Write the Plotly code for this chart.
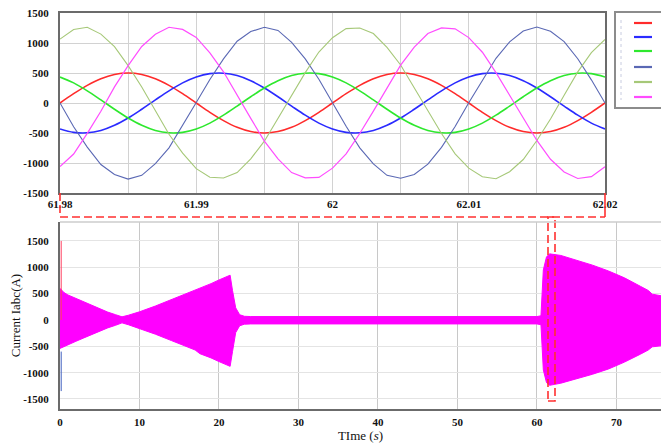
import plotly.graph_objects as go

# ---------------- data: zoomed window (61.98 s - 62.02 s, 1 ms samples) ----------------
t_zoom = [61.980, 61.981, 61.982, 61.983, 61.984, 61.985, 61.986, 61.987, 61.988, 61.989,
          61.990, 61.991, 61.992, 61.993, 61.994, 61.995, 61.996, 61.997, 61.998, 61.999,
          62.000, 62.001, 62.002, 62.003, 62.004, 62.005, 62.006, 62.007, 62.008, 62.009,
          62.010, 62.011, 62.012, 62.013, 62.014, 62.015, 62.016, 62.017, 62.018, 62.019,
          62.020]

ia = [0, 155, 294, 405, 476, 500, 476, 405, 294, 155, 0, -155, -294, -405, -476, -500, -476, -405, -294, -155,
      0, 155, 294, 405, 476, 500, 476, 405, 294, 155, 0, -155, -294, -405, -476, -500, -476, -405, -294, -155, 0]
ib = [-433, -489, -497, -457, -371, -250, -104, 52, 203, 335, 433, 489, 497, 457, 371, 250, 104, -52, -203, -335,
      -433, -489, -497, -457, -371, -250, -104, 52, 203, 335, 433, 489, 497, 457, 371, 250, 104, -52, -203, -335, -433]
ic = [433, 335, 203, 52, -104, -250, -371, -457, -497, -489, -433, -335, -203, -52, 104, 250, 371, 457, 497, 489,
      433, 335, 203, 52, -104, -250, -371, -457, -497, -489, -433, -335, -203, -52, 104, 250, 371, 457, 497, 489, 433]
iga = [0, -395, -735, -1025, -1190, -1268, -1205, -1010, -748, -380, 8, 392, 736, 1030, 1190, 1262, 1210, 1012, 735, 395,
       -5, -388, -748, -1015, -1205, -1255, -1192, -1020, -740, -392, 3, 385, 745, 1018, 1200, 1266, 1195, 1022, 738, 386, 0]
igb = [1065, 1225, 1262, 1148, 940, 622, 268, -128, -520, -836, -1095, -1238, -1250, -1160, -930, -636, -255, 138, 506, 850,
       1088, 1240, 1250, 1158, 928, 634, 258, -136, -509, -848, -1085, -1228, -1262, -1146, -942, -625, -266, 128, 518, 838, 1060]
igc = [-1060, -850, -506, -138, 268, 624, 942, 1146, 1262, 1226, 1094, 836, 520, 126, -256, -636, -930, -1160, -1248, -1240,
       -1086, -848, -508, -136, 260, 632, 930, 1158, 1252, 1236, 1090, 846, 506, 130, -268, -624, -938, -1150, -1258, -1228, -1062]

zoom_ticks = [61.98, 61.99, 62.00, 62.01, 62.02]
zoom_ticktext = ["61.98", "61.99", "62", "62.01", "62.02"]

# ---------------- data: full run envelope of the current (0 - 75.6 s) ----------------
t_env = [0, 0.5, 1, 2, 3, 4, 5, 6, 7, 7.8, 8.6, 10, 12, 14, 16, 17, 17.6, 18.2, 19, 20, 21, 21.4, 21.7, 22.1, 22.6,
         23.2, 24, 30, 40, 50, 60, 60.5, 60.8, 61.2, 61.6, 63, 65, 67, 69, 71, 73, 74, 74.5, 75, 75.6]
upper = [600, 520, 475, 410, 340, 275, 210, 150, 100, 60, 90, 155, 265, 385, 500, 560, 610, 640, 690, 760, 830, 850,
         560, 230, 100, 70, 65, 65, 65, 65, 65, 80, 950, 1200, 1255, 1225, 1130, 1040, 930, 800, 640, 560, 490, 470, 460]
lower = [-540, -510, -470, -405, -340, -275, -210, -150, -100, -55, -90, -160, -270, -390, -510, -570, -640, -670, -720,
         -790, -860, -880, -600, -240, -110, -80, -75, -75, -75, -75, -75, -90, -950, -1190, -1240, -1200, -1120, -1030,
         -930, -800, -650, -570, -510, -495, -490]
t_spike = [0.15, 0.15]
spike_pos = [0, 1500]
spike_neg = [-600, -1350]

full_ticks = [0, 10, 20, 30, 40, 50, 60, 70]
current_ticks = [-1500, -1000, -500, 0, 500, 1000, 1500]

# ---------------- figure ----------------
W, H = 661, 443
def px(x):
    return x / W
def py(y):
    return 1 - y / H

FONT = "Liberation Serif"
tickfont = dict(family=FONT, size=11, color="#111111")
def bold(labels):
    return ["<b>%s</b>" % s for s in labels]

fig = go.Figure()
series = [
    ("Ia", ia, "#ff2b2b", 1.6, "spline"),
    ("Ib", ib, "#2b2bff", 1.6, "spline"),
    ("Ic", ic, "#2ee82e", 1.6, "spline"),
    ("Iga", iga, "#5a68b4", 1.1, "linear"),
    ("Igb", igb, "#a6c878", 1.1, "linear"),
    ("Igc", igc, "#ff4cff", 1.2, "linear"),
]
for name, vals, color, w, shape in series:
    fig.add_trace(go.Scatter(x=t_zoom, y=vals, mode="lines", name=name, showlegend=False,
                             line=dict(color=color, width=w, shape=shape), xaxis="x", yaxis="y"))

fig.add_trace(go.Scatter(x=t_env, y=upper, mode="lines", line=dict(color="#ff00ff", width=1),
                         xaxis="x2", yaxis="y2", showlegend=False, hoverinfo="skip"))
fig.add_trace(go.Scatter(x=t_env, y=lower, mode="lines", line=dict(color="#ff00ff", width=1),
                         fill="tonexty", fillcolor="#ff00ff",
                         xaxis="x2", yaxis="y2", showlegend=False, hoverinfo="skip"))
fig.add_trace(go.Scatter(x=t_spike, y=spike_pos, mode="lines", line=dict(color="#ff4060", width=1),
                         xaxis="x2", yaxis="y2", showlegend=False))
fig.add_trace(go.Scatter(x=t_spike, y=spike_neg, mode="lines", line=dict(color="#4060c0", width=1),
                         xaxis="x2", yaxis="y2", showlegend=False))

red = "#ff3030"
dash = "8px,4px"
shapes = [
    dict(type="line", xref="paper", yref="paper", x0=px(60), x1=px(60), y0=py(193), y1=py(217),
         line=dict(color=red, width=1.6, dash=dash)),
    dict(type="line", xref="paper", yref="paper", x0=px(60), x1=px(605), y0=py(217), y1=py(217),
         line=dict(color=red, width=1.6, dash=dash)),
    dict(type="line", xref="paper", yref="paper", x0=px(605), x1=px(605), y0=py(193), y1=py(217),
         line=dict(color=red, width=1.6)),
    dict(type="rect", xref="paper", yref="paper", x0=px(548), x1=px(555), y0=py(401), y1=py(217),
         line=dict(color=red, width=1.6, dash=dash)),
    dict(type="line", xref="x2 domain", yref="y2 domain", x0=0, x1=1, y0=1, y1=1,
         line=dict(color="#cccccc", width=1.5)),
    # legend frame (its text lies beyond the right edge)
    dict(type="rect", xref="paper", yref="paper", x0=px(615), x1=px(668), y0=py(108), y1=py(12),
         line=dict(color="#8c8c8c", width=2), fillcolor="white"),
    dict(type="line", xref="paper", yref="paper", x0=px(621), x1=px(621), y0=py(20), y1=py(100),
         line=dict(color="#c8cce0", width=1, dash="3px,3px")),
]
legend_rows = [23, 37, 51, 67, 82, 97]
for (name, vals, color, w, shape), row in zip(series, legend_rows):
    shapes.append(dict(type="line", xref="paper", yref="paper", x0=px(634), x1=px(652),
                       y0=py(row), y1=py(row), line=dict(color=color, width=2.2)))

fig.update_layout(
    width=W, height=H,
    margin=dict(l=0, r=0, t=0, b=0),
    paper_bgcolor="white", plot_bgcolor="white",
    font=dict(family=FONT, size=12, color="#111111"),
    showlegend=False,
    xaxis=dict(domain=[px(60), px(605)], range=[61.98, 62.02], anchor="y",
               tickvals=zoom_ticks, ticktext=bold(zoom_ticktext), tickfont=tickfont,
               showgrid=True, gridcolor="#d2d2d2", gridwidth=1,
               minor=dict(tick0=61.98, dtick=0.005, showgrid=True, gridcolor="#d2d2d2", gridwidth=1),
               showline=True, linecolor="#6b6b6b", linewidth=2, mirror=True, zeroline=False,
               ticks="", automargin=False),
    yaxis=dict(domain=[py(193), py(13)], range=[-1500, 1500], anchor="x",
               tickvals=current_ticks, ticktext=bold([str(v) for v in current_ticks]), tickfont=tickfont,
               showgrid=True, gridcolor="#d2d2d2", gridwidth=1,
               showline=True, linecolor="#6b6b6b", linewidth=2, mirror=True, zeroline=False,
               ticks="", ticklabelstandoff=7, automargin=False),
    xaxis2=dict(domain=[px(60), 1.0], range=[0, 75.6], anchor="y2",
                tickvals=full_ticks, ticktext=bold([str(v) for v in full_ticks]), tickfont=tickfont,
                showgrid=True, gridcolor="#c8c8c8", gridwidth=1,
                showline=True, linecolor="#6b6b6b", linewidth=2, zeroline=False,
                ticks="", ticklabelstandoff=2, automargin=False,
                title=dict(text="TIme (<i>s</i>)", font=dict(family=FONT, size=13, color="#111111"), standoff=0)),
    yaxis2=dict(domain=[py(409), py(222)], range=[-1690, 1860], anchor="x2",
                tickvals=current_ticks, ticktext=bold([str(v) for v in current_ticks]), tickfont=tickfont,
                showgrid=True, gridcolor="#e4e4e4", gridwidth=1,
                showline=True, linecolor="#6b6b6b", linewidth=2, zeroline=False,
                ticks="", ticklabelstandoff=7, automargin=False,
                title=dict(text="Current Iabc(A)", font=dict(family=FONT, size=13, color="#111111"), standoff=0)),
    shapes=shapes,
)

fig.write_html("out.html", config={"displayModeBar": False},
               post_script="document.body.style.margin='0';document.body.style.overflow='hidden';")
